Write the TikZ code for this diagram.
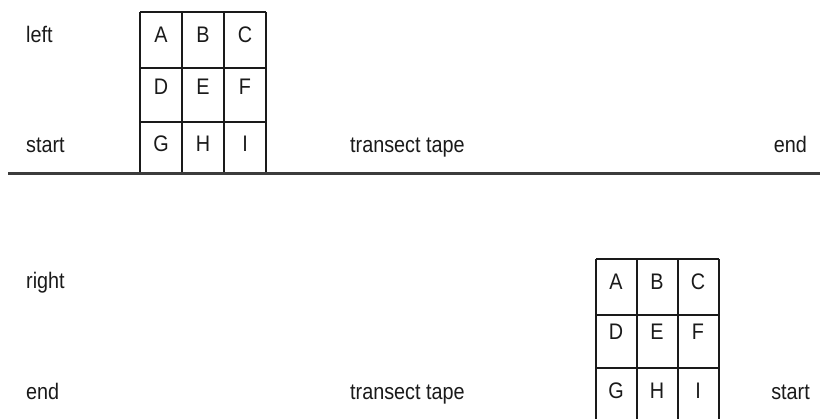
\documentclass[tikz,border=0pt]{standalone}
\usepackage{fontspec}
\setmainfont[FakeStretch=0.88]{Liberation Sans}
\usepackage{xcolor}
\definecolor{inkgray}{HTML}{1a1a1a}

\begin{document}
\begin{tikzpicture}[
    x=1pt, y=-1pt,
    font=\fontsize{22.5}{26}\selectfont,
    label/.style={inner sep=0pt, text=inkgray, anchor=base west},
    rlabel/.style={inner sep=0pt, text=inkgray, anchor=base east},
    cell/.style={inner sep=0pt, text=inkgray, anchor=base},
    grid/.style={line width=1.7pt, draw=inkgray},
    tape/.style={line width=3pt, draw=inkgray!85}
  ]
  \useasboundingbox (0,0) rectangle (820,419);

  % upper transect
  \node[label] (left) at (26,43) {left};
  \node[label] (start1) at (26,153) {start};
  \node[label] (tape1) at (350,153) {transect tape};
  \node[rlabel] (end1) at (807,153) {end};
  \draw[grid] (140,12) -- (266,12) (140,68) -- (266,68) (140,122) -- (266,122);
  \foreach \x in {140,182,224,266}
    \draw[grid] (\x,12) -- (\x,174);
  \foreach \t/\x/\y in {A/161/43, B/203/43, C/245/43,
                        D/161/95, E/203/95, F/245/95,
                        G/161/152, H/203/152, I/245/152}
    \node[cell] (up-\t) at (\x,\y) {\t};
  \draw[tape] (8,174) -- (820,174);

  % lower transect
  \node[label] (right) at (26,289) {right};
  \node[label] (end2) at (26,400) {end};
  \node[label] (tape2) at (350,400) {transect tape};
  \node[rlabel] (start2) at (810,400) {start};
  \draw[grid] (596,259) -- (719,259) (596,315) -- (719,315) (596,368) -- (719,368);
  \foreach \x in {596,637,678,719}
    \draw[grid] (\x,259) -- (\x,419);
  \foreach \t/\x/\y in {A/616/290, B/657/290, C/698/290,
                        D/616/340, E/657/340, F/698/340,
                        G/616/399, H/657/399, I/698/399}
    \node[cell] (lo-\t) at (\x,\y) {\t};
\end{tikzpicture}
\end{document}
